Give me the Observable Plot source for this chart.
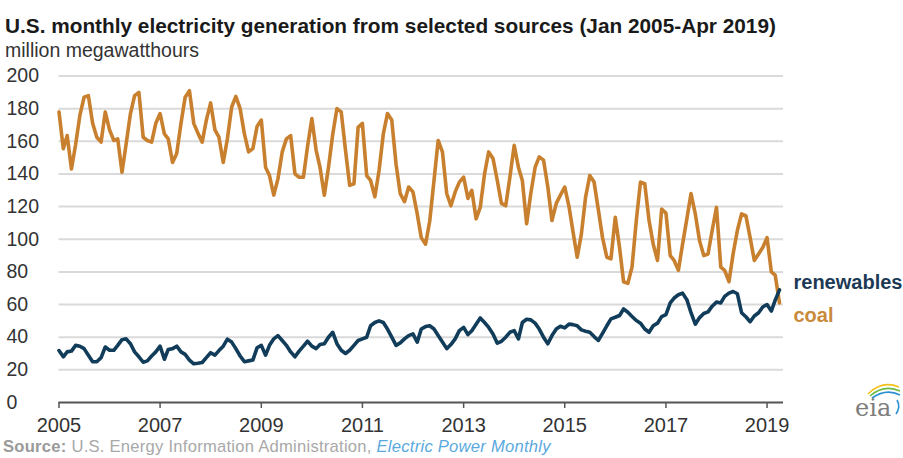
<!DOCTYPE html>
<html>
<head>
<meta charset="utf-8">
<script src="https://cdn.jsdelivr.net/npm/d3@7"></script>
<script src="https://cdn.jsdelivr.net/npm/@observablehq/plot@0.6"></script>
<style>
  body { margin: 0; background: #fff; font-family: "Liberation Sans", Arial, sans-serif; }
  #wrap { position: relative; width: 903px; height: 458px; overflow: hidden; background: #fff; }
  #title { position: absolute; left: 5px; top: 16px; font-size: 20.8px; line-height: 20.8px; font-weight: bold; color: #1a1a1a; white-space: nowrap; }
  #subtitle { position: absolute; left: 5px; top: 41px; font-size: 19.5px; line-height: 19.5px; color: #333; white-space: nowrap; }
  #chart { position: absolute; left: 0; top: 55px; }
  #source { position: absolute; left: 3px; top: 438px; font-size: 16.6px; line-height: 17px; letter-spacing: 0.25px; color: #a8a8a8; white-space: nowrap; }
  #source b { color: #9a9a9a; }
  #source i { color: #5aa9de; }
  #logo { position: absolute; left: 0; top: 0; pointer-events: none; }
</style>
</head>
<body>
<div id="wrap">
  <div id="title">U.S. monthly electricity generation from selected sources (Jan 2005-Apr 2019)</div>
  <div id="subtitle">million megawatthours</div>
  <div id="chart"></div>
  <div id="source"><b>Source:</b> U.S. Energy Information Administration, <i>Electric Power Monthly</i></div>
  <svg id="logo" width="903" height="458">
    <path d="M868,394 Q882,380 899,387" fill="none" stroke="#f2c21b" stroke-width="1.6"/>
    <path d="M870,396 Q884,384 900,391" fill="none" stroke="#6dbb45" stroke-width="1.6"/>
    <path d="M872,398 Q886,388 900,395" fill="none" stroke="#2b8fd0" stroke-width="1.6"/>
    <path d="M897,400 Q901,407 896,414" fill="none" stroke="#2b8fd0" stroke-width="1.6"/>
    <text x="855" y="416" font-family="DejaVu Serif" font-size="24" fill="#7d7d7d">eia</text>
  </svg>
</div>
<script>
// ---- data (million megawatthours), monthly Jan 2005 - Apr 2019 ----
const startDate = new Date(Date.UTC(2005, 0, 1));
const endDate = new Date(Date.UTC(2019, 4, 1)); // exclusive

const coal = [
  178, 155.5, 163.5, 143, 158, 176, 187, 188, 171, 162.5, 159.5, 178,        // 2005
  167, 160.5, 161.5, 141, 158.5, 177, 188, 190, 162.5, 160.5, 159.5, 171,    // 2006
  177, 164.5, 161.5, 147, 152.5, 171, 187, 191, 171, 165, 159.5, 173,        // 2007
  183.5, 167, 162.5, 147, 161.5, 181, 187.5, 180, 164.5, 153.5, 155.5, 169,  // 2008
  173, 144, 139, 127, 137, 153.5, 161.5, 163.5, 140, 138, 138, 157,          // 2009
  174, 154.5, 144, 127, 144, 164.5, 180, 178, 154.5, 133, 134, 168.5,        // 2010
  171, 139, 136, 126, 142, 164.5, 177, 173, 146, 128, 123, 132,              // 2011
  129, 115.5, 101, 97, 111, 136, 160.5, 153.5, 128, 120.5, 129, 135,         // 2012
  138, 125, 130, 112.5, 119.5, 140, 153.5, 149.5, 136, 122, 120.5, 138,      // 2013
  157.5, 144, 136, 109.5, 128, 144, 150.5, 148.5, 132, 111.5, 122, 127,      // 2014
  132, 120, 105, 89, 103, 126, 139, 135, 118, 101, 89, 88,                   // 2015
  113.5, 95, 74, 73, 83, 111.5, 135, 134, 111.5, 97, 87, 118.5,              // 2016
  116, 90, 87, 81, 97, 112.5, 128, 115.5, 99, 90, 91, 105.5,                 // 2017
  119.5, 83, 81, 74, 91, 105.5, 115.5, 114.5, 101, 87, 91, 95,               // 2018
  101, 80, 78, 61                                                            // 2019
];

const renewables = [
  31.8, 28, 31, 31.5, 35, 34.5, 33, 29, 25, 25, 27.5, 34,                    // 2005
  32, 32, 35, 38.5, 39, 36, 31, 28, 24.7, 25.5, 28.5, 31,                    // 2006
  34.5, 26.5, 32.5, 33, 34.5, 31, 29.5, 26, 23.7, 24, 24.5, 27.5,            // 2007
  30.5, 29, 31.8, 34.5, 38.8, 37, 33, 28.5, 25, 25.5, 26, 33.5,              // 2008
  35, 29, 35, 39, 41, 38, 35, 31, 28, 31.5, 34.5, 37.5,                      // 2009
  34.5, 33, 35.5, 36, 40, 43, 36, 32, 30, 32, 35, 38,                        // 2010
  39, 40, 47, 49, 50, 49, 45, 40, 35, 36.5, 39, 41,                          // 2011
  42, 37, 45, 46.5, 47, 45, 41, 37, 33, 35.5, 39, 44,                        // 2012
  46, 41.6, 44, 48, 51.8, 49, 46, 42, 36.3, 37.5, 40, 43,                    // 2013
  44, 39, 49, 51, 50.6, 48.6, 45, 40, 36, 41, 45, 46.7,                      // 2014
  45.7, 48, 47.7, 47, 44.5, 43.7, 43, 40.4, 38, 42.4, 47, 51.2,              // 2015
  52.2, 53.3, 57.3, 55.3, 52.7, 50.2, 48.6, 45, 43, 47, 48.6, 52.6,          // 2016
  53.8, 61, 64, 66, 67, 63, 55, 48, 52, 54.5, 55.5, 59,                      // 2017
  61.5, 61, 65, 67, 68, 66.6, 55, 52.5, 49.5, 53, 55, 58.5,                  // 2018
  60, 56, 62.7, 69                                                           // 2019
];

const yTicks = [0, 20, 40, 60, 80, 100, 120, 140, 160, 180, 200];
const xTickYears = [2005, 2007, 2009, 2011, 2013, 2015, 2017, 2019];
const seriesLabels = ["renewables", "coal"];
const colors = { coal: "#c8802f", renewables: "#113c5a", coalLabel: "#c98a3c", renewablesLabel: "#1c3a56" };

// ---- build tables ----
const months = d3.utcMonth.range(startDate, endDate);
const coalData = months.map((d, i) => ({ date: d, value: coal[i] }));
const renData = months.map((d, i) => ({ date: d, value: renewables[i] }));
const last = months.length - 1;
const xTicks = xTickYears.map(y => new Date(Date.UTC(y, 0, 1)));

const chart = Plot.plot({
  width: 903,
  height: 380,
  marginTop: 20.5,
  marginBottom: 33,
  marginLeft: 58.5,
  marginRight: 120,
  x: { type: "utc", domain: [months[0], months[last]], range: [58.5, 779] },
  y: { domain: [0, 200], axis: null },
  style: { fontFamily: "'Liberation Sans', Arial, sans-serif", background: "transparent", color: "#333", overflow: "visible" },
  marks: [
    Plot.ruleY(yTicks.filter(d => d > 0), { stroke: "#dadada", strokeWidth: 2 }),
    Plot.text(yTicks, { y: d => d, text: d => String(d), frameAnchor: "left", dx: -52.5, textAnchor: "start", fontSize: 19.5, fill: "#333" }),
    Plot.axisX({ ticks: xTicks, tickFormat: d3.utcFormat("%Y"), tickSize: 6, tickPadding: 9, fontSize: 20, stroke: "#555", strokeWidth: 1.5, fill: "#333", label: null }),
    Plot.ruleY([0], { stroke: "#555", strokeWidth: 2 }),
    Plot.line(coalData, { x: "date", y: "value", stroke: colors.coal, strokeWidth: 3.6, strokeLinejoin: "round", strokeLinecap: "round" }),
    Plot.line(renData, { x: "date", y: "value", stroke: colors.renewables, strokeWidth: 3.6, strokeLinejoin: "round", strokeLinecap: "round" }),
    Plot.text([{ date: months[last], value: renewables[last], label: seriesLabels[0] }],
      { x: "date", y: "value", text: "label", dx: 14, dy: -7, textAnchor: "start", fontWeight: "bold", fontSize: 20, fill: colors.renewablesLabel }),
    Plot.text([{ date: months[last], value: coal[last], label: seriesLabels[1] }],
      { x: "date", y: "value", text: "label", dx: 14, dy: 13, textAnchor: "start", fontWeight: "bold", fontSize: 20, fill: colors.coalLabel })
  ]
});
document.getElementById("chart").appendChild(chart);
</script>
</body>
</html>
